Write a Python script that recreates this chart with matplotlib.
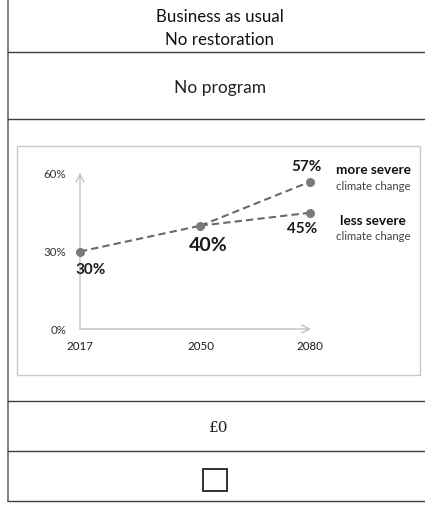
import matplotlib
matplotlib.use("Agg")
import matplotlib.pyplot as plt
from matplotlib.patches import Rectangle

# ---- data ----
header_lines = ["Business as usual", "No restoration"]
program_label = "No program"
cost_label = "£0"
years = [2017, 2050, 2080]
year_labels = ["2017", "2050", "2080"]
base_years = [2017, 2050]
base_values = [30, 40]
more_severe_years = [2050, 2080]
more_severe_values = [40, 57]
less_severe_years = [2050, 2080]
less_severe_values = [40, 45]
y_ticks = [0, 30, 60]
y_tick_labels = ["0%", "30%", "60%"]
scenario_names = ["more severe", "less severe"]
scenario_sub = "climate change"

FONT = "Lato"
W, H = 425, 508
fig = plt.figure(figsize=(W / 100, H / 100), dpi=100)
fig.patch.set_facecolor("white")

# overlay axes in pixel coordinates
bg = fig.add_axes([0, 0, 1, 1])
bg.set_xlim(0, W)
bg.set_ylim(H, 0)
bg.axis("off")

lc = "#404040"
# table lines
bg.plot([8, 8], [0, 501], color="#808080", lw=1.4)
for y in [52, 119, 401, 451, 501]:
    bg.plot([8, W], [y, y], color=lc, lw=1.0)

bg.text(220, 17, header_lines[0], ha="center", va="center", fontsize=12.2, family=FONT, color="#111111")
bg.text(220, 40, header_lines[1], ha="center", va="center", fontsize=12.2, family=FONT, color="#111111")
bg.text(220, 88, program_label, ha="center", va="center", fontsize=12.5, family=FONT, color="#222222")
bg.text(219, 428, cost_label, ha="center", va="center", fontsize=11, family="DejaVu Serif", color="#222222")
bg.add_patch(Rectangle((203, 469), 24, 22, fill=False, edgecolor="#222222", lw=1.3))

# chart frame
bg.add_patch(Rectangle((17, 146), 403, 229, fill=False, edgecolor="#c8c8c8", lw=1.0))

# data axes: x 2017..2080 -> px 80..310, y 0..60 -> px 329..174
x0, x1, y0, y1 = 80, 310, 329, 174
ax = fig.add_axes([x0 / W, 1 - y0 / H, (x1 - x0) / W, (y0 - y1) / H])
ax.set_xlim(2017, 2080)
ax.set_ylim(0, 60)
ax.patch.set_alpha(0)
for s in ax.spines.values():
    s.set_visible(False)

axc = "#c0c0c0"
ax.annotate("", xy=(2017, 60.5), xytext=(2017, 0),
            arrowprops=dict(arrowstyle="->", color=axc, lw=1.0, shrinkA=0, shrinkB=0,
                            mutation_scale=14), annotation_clip=False)
ax.annotate("", xy=(2080.3, 0), xytext=(2017, 0),
            arrowprops=dict(arrowstyle="->", color=axc, lw=1.0, shrinkA=0, shrinkB=0,
                            mutation_scale=14), annotation_clip=False)

ax.set_xticks(years)
ax.set_xticklabels(year_labels, family=FONT, fontsize=8.3, color="#1a1a1a")
ax.set_yticks(y_ticks)
ax.set_yticklabels(y_tick_labels, family=FONT, fontsize=8.3, color="#333333")
ax.tick_params(axis="x", length=0, pad=9)
ax.tick_params(axis="y", length=0, pad=10)

lcol = "#6a6a6a"
mcol = "#7a7a7a"
for xs, ys in [(base_years, base_values), (more_severe_years, more_severe_values),
               (less_severe_years, less_severe_values)]:
    ax.plot(xs, ys, ls=(0, (3.5, 2)), color=lcol, lw=1.5, clip_on=False, zorder=2)
pts_x = [2017, 2050, 2080, 2080]
pts_y = [base_values[0], base_values[1], more_severe_values[1], less_severe_values[1]]
ax.scatter(pts_x, pts_y, s=30, color=mcol, zorder=3, clip_on=False)

# value labels
ax.annotate(f"{base_values[0]}%", (2017, base_values[0]), xytext=(11, -18), textcoords="offset pixels",
            ha="center", va="center", fontsize=11, fontweight="bold", family=FONT, color="#1a1a1a")
ax.annotate(f"{base_values[1]}%", (2050, base_values[1]), xytext=(8, -20), textcoords="offset pixels",
            ha="center", va="center", fontsize=14, fontweight="bold", family=FONT, color="#1a1a1a")
ax.annotate(f"{more_severe_values[1]}%", (2080, more_severe_values[1]), xytext=(-4, 15), textcoords="offset pixels",
            ha="center", va="center", fontsize=11, fontweight="bold", family=FONT, color="#1a1a1a")
ax.annotate(f"{less_severe_values[1]}%", (2080, less_severe_values[1]), xytext=(-8, -16), textcoords="offset pixels",
            ha="center", va="center", fontsize=11, fontweight="bold", family=FONT, color="#1a1a1a")

# scenario labels
bg.text(373, 170, scenario_names[0], ha="center", va="center", fontsize=9.8, fontweight="bold", family=FONT, color="#111111")
bg.text(373, 186, scenario_sub, ha="center", va="center", fontsize=8.2, family=FONT, color="#444444")
bg.text(373, 221, scenario_names[1], ha="center", va="center", fontsize=9.8, fontweight="bold", family=FONT, color="#111111")
bg.text(373, 237, scenario_sub, ha="center", va="center", fontsize=8.2, family=FONT, color="#444444")

fig.savefig("out.png", dpi=100, facecolor="white")
